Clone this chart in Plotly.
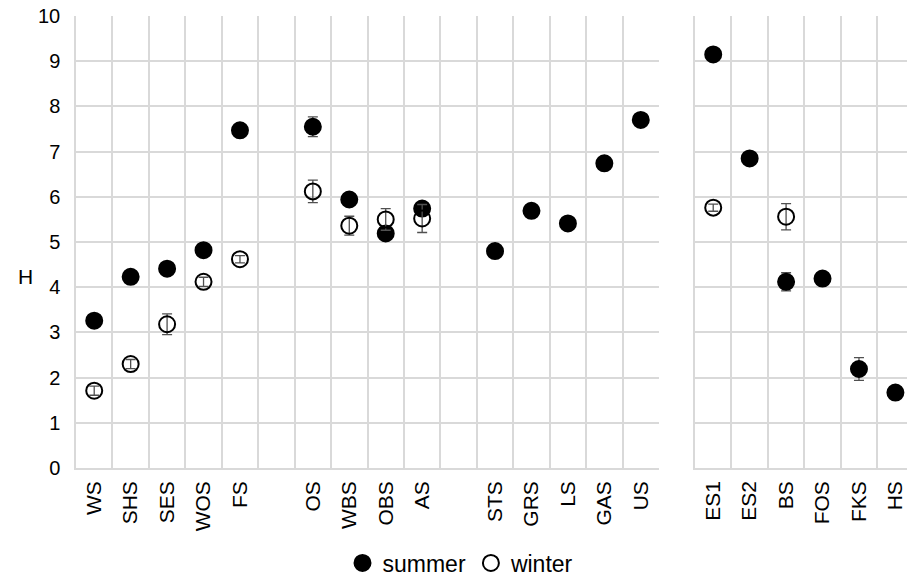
import plotly.graph_objects as go

# ---- data ----
left_categories = ["WS", "SHS", "SES", "WOS", "FS", "", "OS", "WBS", "OBS", "AS", "",
                   "STS", "GRS", "LS", "GAS", "US"]
left_summer = [3.26, 4.23, 4.41, 4.82, 7.47, None, 7.55, 5.94, 5.19, 5.74, None,
               4.80, 5.69, 5.41, 6.74, 7.70]
left_summer_err = [0.08, 0.12, 0.14, 0.13, 0.05, None, 0.22, 0.05, 0.08, 0.05, None,
                   0.05, 0.05, 0.05, 0.05, 0.05]
left_winter = [1.71, 2.30, 3.18, 4.12, 4.62, None, 6.12, 5.36, 5.50, 5.52, None,
               None, None, None, None, None]
left_winter_err = [0.10, 0.10, 0.23, 0.10, 0.08, None, 0.25, 0.21, 0.24, 0.31, None,
                   None, None, None, None, None]

right_categories = ["ES1", "ES2", "BS", "FOS", "FKS", "HS"]
right_summer = [9.15, 6.85, 4.12, 4.19, 2.19, 1.67]
right_summer_err = [0.05, 0.05, 0.20, 0.05, 0.25, 0.05]
right_winter = [5.76, None, 5.56, None, None, None]
right_winter_err = [0.08, None, 0.29, None, None, None]

y_ticks = [0, 1, 2, 3, 4, 5, 6, 7, 8, 9, 10]

# ---- styling ----
W, H = 907, 577
FONT = "Liberation Sans, Arial, sans-serif"
GRID = "#d9d9d9"
ERR = "#505050"

def px_x(p):
    return p / W

def px_y(p):
    return 1 - p / H

left_pos = list(range(len(left_categories)))
right_pos = list(range(len(right_categories)))

fig = go.Figure()

def add_series(x, y, err, xa, ya, name, filled, show):
    fig.add_trace(go.Scatter(
        x=x, y=y, mode="markers", name=name, xaxis=xa, yaxis=ya,
        showlegend=show, legendgroup=name,
        marker=dict(symbol="circle" if filled else "circle-open",
                    size=16, color="black",
                    line=dict(width=2, color="black")),
        error_y=dict(type="data", array=[e if e is not None else 0 for e in err],
                     visible=True, color=ERR, thickness=1.3, width=5),
    ))

add_series(left_pos, left_summer, left_summer_err, "x", "y", "summer", True, True)
add_series(left_pos, left_winter, left_winter_err, "x", "y", "winter", False, True)
add_series(right_pos, right_summer, right_summer_err, "x2", "y2", "summer", True, False)
add_series(right_pos, right_winter, right_winter_err, "x2", "y2", "winter", False, False)

x1_dom = [px_x(76), px_x(659)]
x2_dom = [px_x(695), 1.0]
cat_w = (659 - 76) / len(left_categories)
right_hi = -0.5 + (W - 695) / cat_w
y_dom = [px_y(468), px_y(16)]

common_x = dict(
    showgrid=False, zeroline=False, tickangle=-90, automargin=False,
    tickfont=dict(family=FONT, size=21, color="#000"),
    ticks="", showline=True, linecolor=GRID, linewidth=1.5,
    ticklabelstandoff=3,
)

fig.update_layout(
    width=W, height=H,
    margin=dict(l=0, r=0, t=0, b=0, autoexpand=False),
    paper_bgcolor="white", plot_bgcolor="white",
    font=dict(family=FONT, size=20, color="#000"),
    xaxis=dict(domain=x1_dom, range=[-0.5, len(left_categories) - 0.5],
               tickmode="array", tickvals=left_pos, ticktext=left_categories,
               minor=dict(tickvals=[i - 0.5 for i in range(len(left_categories) + 1)],
                          showgrid=True, gridcolor=GRID, gridwidth=1.5, ticks=""),
               anchor="y", **common_x),
    xaxis2=dict(domain=x2_dom, range=[-0.5, right_hi],
                tickmode="array", tickvals=right_pos, ticktext=right_categories,
                minor=dict(tickvals=[i - 0.5 for i in range(len(right_categories) + 1)],
                           showgrid=True, gridcolor=GRID, gridwidth=1.5, ticks=""),
                anchor="y2", **common_x),
    yaxis=dict(domain=y_dom, range=[0, 10], tickmode="array", tickvals=y_ticks,
               showgrid=True, gridcolor=GRID, gridwidth=1.5, zeroline=False,
               showline=True, linecolor=GRID, linewidth=1.5, ticks="", automargin=False,
               tickfont=dict(family=FONT, size=20, color="#000"),
               ticklabelstandoff=10, anchor="x"),
    yaxis2=dict(domain=y_dom, range=[0, 10], tickmode="array", tickvals=y_ticks,
                showgrid=True, gridcolor=GRID, gridwidth=1.5, zeroline=False,
                showline=True, linecolor=GRID, linewidth=1.5, ticks="", automargin=False,
                showticklabels=False, anchor="x2"),
    legend=dict(orientation="h", x=px_x(461), xanchor="center",
                y=px_y(563), yanchor="middle",
                font=dict(family=FONT, size=23, color="#000"),
                itemwidth=30, tracegroupgap=0, bgcolor="rgba(0,0,0,0)"),
    annotations=[dict(text="H", x=px_x(16), y=px_y(276), xref="paper", yref="paper",
                      showarrow=False, font=dict(family=FONT, size=21, color="#000"))],
)

fig.write_html(
    "out.html",
    config={"displayModeBar": False},
    post_script="document.body.style.margin='0';document.body.style.overflow='hidden';",
)
